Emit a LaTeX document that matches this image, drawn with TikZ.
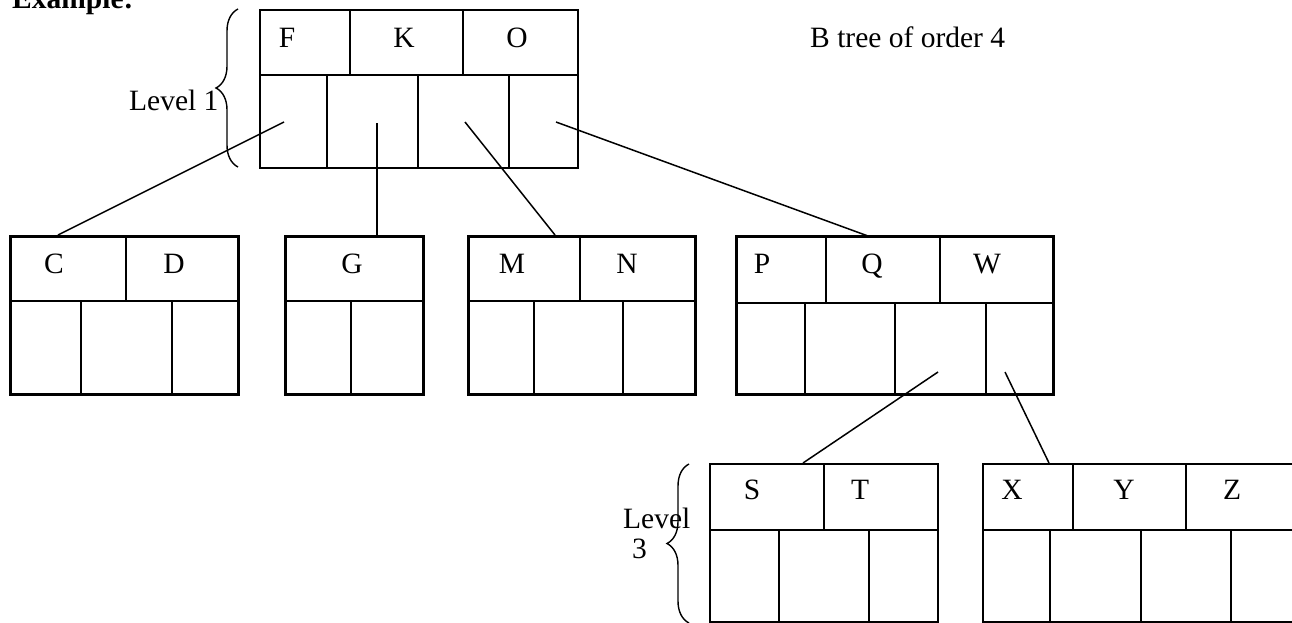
\documentclass[tikz,border=0pt]{standalone}
\usepackage{fontspec}
\setmainfont{Liberation Serif}
\usetikzlibrary{decorations.pathreplacing}
\tikzset{
  box/.style={draw, line width=1.8pt, inner sep=0pt, anchor=north west},
  boldbox/.style={box, line width=2.5pt},
  div/.style={line width=1.8pt},
  bdiv/.style={line width=2.5pt},
  lbl/.style={anchor=base, inner sep=0pt, font=\fontsize{29.5}{34}\selectfont},
  txt/.style={anchor=base west, inner sep=0pt, font=\fontsize{29.5}{34}\selectfont},
  link/.style={line width=1.5pt},
  lvlbrace/.style={decorate, decoration={brace, amplitude=22pt}, line width=1.4pt}
}
\begin{document}
\begin{tikzpicture}[x=1pt, y=-1pt]
\useasboundingbox (0,0) rectangle (1292,622);
% title
\node[txt, font=\fontsize{29.5}{34}\selectfont\bfseries] (ex) at (12,8) {Example:};
\node[txt] (order) at (810,47) {B tree of order 4};
% root
\node[box, minimum width=318pt, minimum height=158pt] (root) at (259,9) {};
\draw[div] (259,75) -- (577,75);
\draw[div] (350,9) -- (350,75) (463,9) -- (463,75);
\draw[div] (327,75) -- (327,167) (418,75) -- (418,167) (509,75) -- (509,167);
\node[lbl] (kF) at (287,47) {F};
\node[lbl] (kK) at (404,47) {K};
\node[lbl] (kO) at (517,47) {O};
\draw[lvlbrace] (238,167) -- (238,9);
\node[txt] (lv1) at (129,110) {Level 1};
% level 2: C D
\node[boldbox, minimum width=228pt, minimum height=158pt] (cd) at (9,235) {};
\draw[bdiv] (9,301) -- (237,301) (126,235) -- (126,301)
  (81,301) -- (81,393) (172,301) -- (172,393);
\node[lbl] (kC) at (54,273) {C};
\node[lbl] (kD) at (174,273) {D};
% G
\node[boldbox, minimum width=138pt, minimum height=158pt] (g) at (284,235) {};
\draw[bdiv] (284,301) -- (422,301) (351,301) -- (351,393);
\node[lbl] (kG) at (352,273) {G};
% M N
\node[boldbox, minimum width=227pt, minimum height=158pt] (mn) at (467,235) {};
\draw[bdiv] (467,301) -- (694,301) (580,235) -- (580,301)
  (534,301) -- (534,393) (623,301) -- (623,393);
\node[lbl] (kM) at (512,273) {M};
\node[lbl] (kN) at (627,273) {N};
% P Q W
\node[boldbox, minimum width=317pt, minimum height=158pt] (pqw) at (735,235) {};
\draw[bdiv] (735,303) -- (1052,303) (826,235) -- (826,303) (940,235) -- (940,303)
  (805,303) -- (805,393) (895,303) -- (895,393) (986,303) -- (986,393);
\node[lbl] (kP) at (762,273) {P};
\node[lbl] (kQ) at (872,273) {Q};
\node[lbl] (kW) at (987,273) {W};
% level 3: S T
\node[box, minimum width=228pt, minimum height=158pt] (st) at (709,463) {};
\draw[div] (709,530) -- (937,530) (824,463) -- (824,530)
  (779,530) -- (779,621) (869,530) -- (869,621);
\node[lbl] (kS) at (752,499) {S};
\node[lbl] (kT) at (860,499) {T};
% X Y Z
\node[box, minimum width=320pt, minimum height=158pt] (xyz) at (982,463) {};
\draw[div] (982,530) -- (1302,530) (1073,463) -- (1073,530) (1186,463) -- (1186,530)
  (1050,530) -- (1050,621) (1141,530) -- (1141,621) (1231,530) -- (1231,621);
\node[lbl] (kX) at (1012,499) {X};
\node[lbl] (kY) at (1124,499) {Y};
\node[lbl] (kZ) at (1232,499) {Z};
\draw[lvlbrace] (689,623) -- (689,464);
\node[txt] (lv3a) at (623,528) {Level};
\node[txt] (lv3b) at (632,558) {3};
% pointer coordinates
\coordinate (p1) at (284,122);
\coordinate (p2) at (377,123);
\coordinate (p3) at (465,122);
\coordinate (p4) at (556,122);
\coordinate (q3) at (938,372);
\coordinate (q4) at (1005,372);
\coordinate (cdt) at (58,235);
\coordinate (gt) at (377,235);
\coordinate (mnt) at (555,235);
\coordinate (pqwt) at (868,236);
\coordinate (stt) at (803,463);
\coordinate (xyzt) at (1049,463);
\draw[link] (p1) -- (cdt);
\draw[link] (p2) -- (gt);
\draw[link] (p3) -- (mnt);
\draw[link] (p4) -- (pqwt);
\draw[link] (q3) -- (stt);
\draw[link] (q4) -- (xyzt);
\end{tikzpicture}
\end{document}
